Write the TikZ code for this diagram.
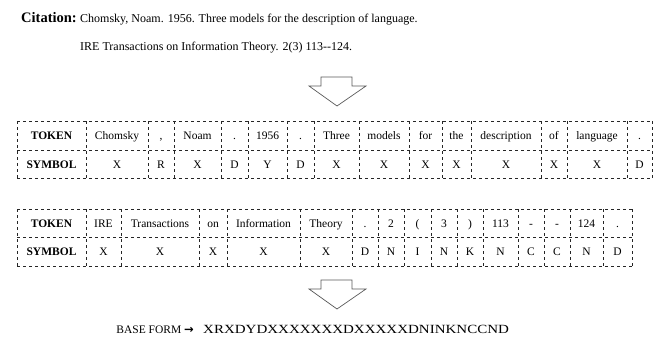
\documentclass[tikz,border=0pt]{standalone}
\usepackage{graphicx}
\usepackage{fontspec}
\setmainfont{Liberation Serif}
\newfontfamily\arrowfont{DejaVu Sans}
\begin{document}
\begin{tikzpicture}[x=1pt, y=-1pt,
    cell/.style={anchor=base, font=\fontsize{11.5}{13}\selectfont, inner sep=0pt},
    grid/.style={dashed, line width=0.6pt, black!85},
    blockarrow/.style={draw=black!65, line width=0.7pt, line join=miter}]
  \useasboundingbox (0,0) rectangle (656,345);
  % citation
  \node[anchor=base east, inner sep=0pt, font=\fontsize{14.5}{16}\selectfont\bfseries] (cite) at (77,23) {Citation:};
  \node[anchor=base west, inner sep=0pt, font=\fontsize{12}{14}\selectfont] (citeA) at (80,23) {Chomsky, Noam. 1956. Three models for the description of language.};
  \node[anchor=base west, inner sep=0pt, font=\fontsize{12}{14}\selectfont] (citeB) at (80,51) {IRE Transactions on Information Theory. 2(3) 113-{}-124.};
  % arrows down
  \foreach \ay [count=\k] in {77,280}
    \draw[blockarrow] (321,\ay) -- (352,\ay) -- (352,{\ay+9}) -- (366,{\ay+9}) -- (337,{\ay+29}) -- (309,{\ay+9}) -- (321,{\ay+9}) -- cycle;
  % first table
  \foreach \y in {121,150,178} \draw[grid] (17,\y) -- (652,\y);
  \draw[grid] (17,121) -- (17,178);
  \foreach \xa/\xb/\tok/\sym [count=\i] in {17/86/\textbf{TOKEN}/\textbf{SYMBOL}, 86/148/Chomsky/X,
      148/174/{,}/R, 174/221/Noam/X, 221/248/./D, 248/287/1956/Y, 287/314/./D, 314/359/Three/X,
      359/409/models/X, 409/442/for/X, 442/471/the/X, 471/541/description/X, 541/567/of/X,
      567/627/language/X, 627/652/./D} {
    \node[cell] (tokA\i) at ({(\xa+\xb)/2},139.5) {\tok};
    \node[cell] (symA\i) at ({(\xa+\xb)/2},168) {\sym};
    \draw[grid] (\xb,121) -- (\xb,178);
  }
  % second table
  \foreach \y in {209,237,266} \draw[grid] (17,\y) -- (632,\y);
  \draw[grid] (17,209) -- (17,266);
  \foreach \xa/\xb/\tok/\sym [count=\i] in {17/86/\textbf{TOKEN}/\textbf{SYMBOL}, 86/121/IRE/X,
      121/199/Transactions/X, 199/227/on/X, 227/300/Information/X, 300/352/Theory/X, 352/378/./D,
      378/404/2/N, 404/431/(/I, 431/457/3/N, 457/483/)/K, 483/518/113/N, 518/544/-/C, 544/570/-/C,
      570/603/124/N, 603/632/./D} {
    \node[cell] (tokB\i) at ({(\xa+\xb)/2},227) {\tok};
    \node[cell] (symB\i) at ({(\xa+\xb)/2},255) {\sym};
    \draw[grid] (\xb,209) -- (\xb,266);
  }
  % result
  \node[anchor=base east, inner sep=0pt, font=\fontsize{11.5}{13}\selectfont] (baselabel) at (194,333) {BASE FORM {\arrowfont\bfseries\fontsize{11.5}{13}\selectfont →}};
  \node[anchor=base west, inner sep=0pt, font=\fontsize{12.5}{15}\selectfont] (baseseq) at (203,333) {\scalebox{1.2}[1]{XRXDYDXXXXXXXDXXXXXDNINKNCCND}};
\end{tikzpicture}
\end{document}
